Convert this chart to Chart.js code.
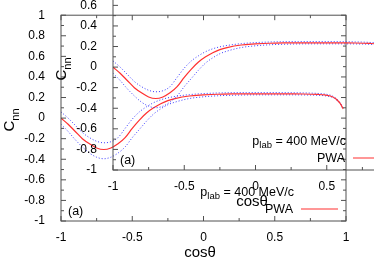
<!DOCTYPE html>
<html><head><meta charset="utf-8">
<script src="https://cdn.jsdelivr.net/npm/chart.js@4"></script>
<style>
html,body{margin:0;padding:0;background:#fff;overflow:hidden;width:374px;height:262px;}
#wrap{position:relative;width:374px;height:262px;overflow:hidden;background:#fff;}
canvas{position:absolute;}
#back{left:0;top:0;}
#front{left:52px;top:-51px;}
</style></head><body>
<div id="wrap"><canvas id="back" width="374" height="262"></canvas><canvas id="front" width="374" height="262"></canvas></div>
<script>
const cosTheta = [-1,-0.95,-0.9,-0.85,-0.8,-0.75,-0.7,-0.65,-0.6,-0.55,-0.5,-0.45,-0.4,-0.35,-0.3,-0.25,-0.2,-0.1,0,0.1,0.2,0.3,0.4,0.5,0.6,0.7,0.8,0.85,0.9,0.93,0.96,0.98];
const cnnPWA   = [0,-0.06,-0.13,-0.2,-0.25,-0.29,-0.305,-0.29,-0.25,-0.19,-0.1,-0.02,0.05,0.1,0.14,0.17,0.19,0.215,0.225,0.232,0.235,0.236,0.236,0.236,0.235,0.234,0.23,0.225,0.21,0.185,0.14,0.09];
const cnnUpper = [0.06,0.0,-0.07,-0.14,-0.19,-0.225,-0.24,-0.23,-0.19,-0.1,-0.01,0.06,0.11,0.15,0.178,0.197,0.21,0.228,0.238,0.244,0.247,0.248,0.248,0.248,0.247,0.245,0.24,0.234,0.218,0.192,0.147,0.095];
const cnnLower = [-0.06,-0.13,-0.21,-0.28,-0.34,-0.38,-0.395,-0.38,-0.34,-0.28,-0.19,-0.11,-0.03,0.04,0.09,0.13,0.155,0.19,0.207,0.217,0.222,0.225,0.226,0.226,0.226,0.225,0.222,0.217,0.204,0.18,0.135,0.087];
const xTickLabels = [-1,-0.5,0,0.5,1];
const xMinorTicks = [-0.75,-0.25,0.25,0.75];
const yTickLabels = [-1,-0.8,-0.6,-0.4,-0.2,0,0.2,0.4,0.6,0.8,1];
const yMinorTicks = [-0.9,-0.7,-0.5,-0.3,-0.1,0.1,0.3,0.5,0.7,0.9];
const keyTitle = ['p','lab',' = 400 MeV/c'];
const seriesName = 'PWA';
const panelLabel = '(a)';
const xTitleText = 'cosθ';
const yTitleText = ['C','nn'];

const FONT = '"Liberation Sans", Arial, sans-serif';

const decoPlugin = {
  id: 'deco',
  afterDraw(chart) {
    const {ctx, chartArea: a, scales: {x, y}} = chart;
    ctx.save();
    ctx.strokeStyle = '#505050';
    ctx.lineWidth = 1;
    ctx.strokeRect(a.left, a.top, a.right - a.left, a.bottom - a.top);
    ctx.beginPath();
    const xt = (vals, len) => vals.forEach(v => {
      const px = x.getPixelForValue(v);
      ctx.moveTo(px, a.bottom); ctx.lineTo(px, a.bottom - len);
      ctx.moveTo(px, a.top); ctx.lineTo(px, a.top + len);
    });
    const yt = (vals, len) => vals.forEach(v => {
      const py = y.getPixelForValue(v);
      ctx.moveTo(a.left, py); ctx.lineTo(a.left + len, py);
      ctx.moveTo(a.right, py); ctx.lineTo(a.right - len, py);
    });
    xt(xTickLabels, 5); xt(xMinorTicks, 3);
    yt(yTickLabels, 5); yt(yMinorTicks, 3);
    ctx.stroke();

    ctx.fillStyle = '#000';
    ctx.font = '15px ' + FONT;
    ctx.textAlign = 'center';
    ctx.textBaseline = 'alphabetic';
    ctx.fillText(xTitleText, 200, 257);
    ctx.save();
    ctx.translate(14, 120);
    ctx.rotate(-Math.PI / 2);
    ctx.font = '15px ' + FONT;
    const wC = ctx.measureText(yTitleText[0]).width;
    ctx.font = '11px ' + FONT;
    const wN = ctx.measureText(yTitleText[1]).width;
    const tot = wC + wN;
    ctx.textAlign = 'left';
    ctx.font = '15px ' + FONT;
    ctx.fillText(yTitleText[0], -tot / 2, 0);
    ctx.font = '11px ' + FONT;
    ctx.fillText(yTitleText[1], -tot / 2 + wC, 5);
    ctx.restore();

    ctx.textAlign = 'left';
    ctx.font = '12.5px ' + FONT;
    const w0 = ctx.measureText(keyTitle[0]).width;
    const w2 = ctx.measureText(keyTitle[2]).width;
    ctx.font = '9.5px ' + FONT;
    const w1 = ctx.measureText(keyTitle[1]).width;
    let kx = 294 - (w0 + w1 + w2);
    ctx.font = '12.5px ' + FONT;
    ctx.fillText(keyTitle[0], kx, 196);
    ctx.font = '9.5px ' + FONT;
    ctx.fillText(keyTitle[1], kx + w0, 199);
    ctx.font = '12.5px ' + FONT;
    ctx.fillText(keyTitle[2], kx + w0 + w1, 196);
    ctx.textAlign = 'right';
    ctx.fillText(seriesName, 293, 213);
    ctx.strokeStyle = chart.data.datasets[0].borderColor;
    ctx.lineWidth = 1.2;
    ctx.beginPath(); ctx.moveTo(301, 209); ctx.lineTo(338, 209); ctx.stroke();
    ctx.textAlign = 'left';
    ctx.fillText(panelLabel, 68, 215);
    ctx.restore();
  }
};

function makeChart(id) {
  const pts = arr => cosTheta.map((c, i) => ({x: c, y: arr[i]}));
  return new Chart(document.getElementById(id), {
    type: 'line',
    data: {
      datasets: [
        {label: seriesName, data: pts(cnnPWA), borderColor: '#ff3030', borderWidth: 1.2, pointRadius: 0, fill: false, cubicInterpolationMode: 'monotone'},
        {label: 'upper', data: pts(cnnUpper), borderColor: '#3a3aff', borderWidth: 1, borderDash: [1, 2], pointRadius: 0, fill: false, cubicInterpolationMode: 'monotone'},
        {label: 'lower', data: pts(cnnLower), borderColor: '#3a3aff', borderWidth: 1, borderDash: [1, 2], pointRadius: 0, fill: false, cubicInterpolationMode: 'monotone'}
      ]
    },
    options: {
      responsive: false,
      animation: false,
      events: [],
      layout: {padding: {top: 15, right: 28, left: 0, bottom: 0}},
      plugins: {legend: {display: false}, tooltip: {enabled: false}},
      scales: {
        x: {
          type: 'linear', min: -1, max: 1,
          afterFit: s => { s.height = 41; },
          afterBuildTicks: s => { s.ticks = xTickLabels.map(v => ({value: v})); },
          grid: {display: false}, border: {display: false},
          ticks: {padding: 1, color: '#000', font: {family: FONT, size: 12}, maxRotation: 0, autoSkip: false,
                  callback: v => String(Math.round(v * 10) / 10)}
        },
        y: {
          type: 'linear', min: -1, max: 1,
          afterFit: s => { s.width = 61; },
          afterBuildTicks: s => { s.ticks = yTickLabels.map(v => ({value: v})); },
          grid: {display: false}, border: {display: false},
          ticks: {padding: 8, color: '#000', font: {family: FONT, size: 12}, autoSkip: false,
                  callback: v => String(Math.round(v * 10) / 10)}
        }
      }
    },
    plugins: [decoPlugin]
  });
}
makeChart('back');
makeChart('front');
</script>
</body></html>
